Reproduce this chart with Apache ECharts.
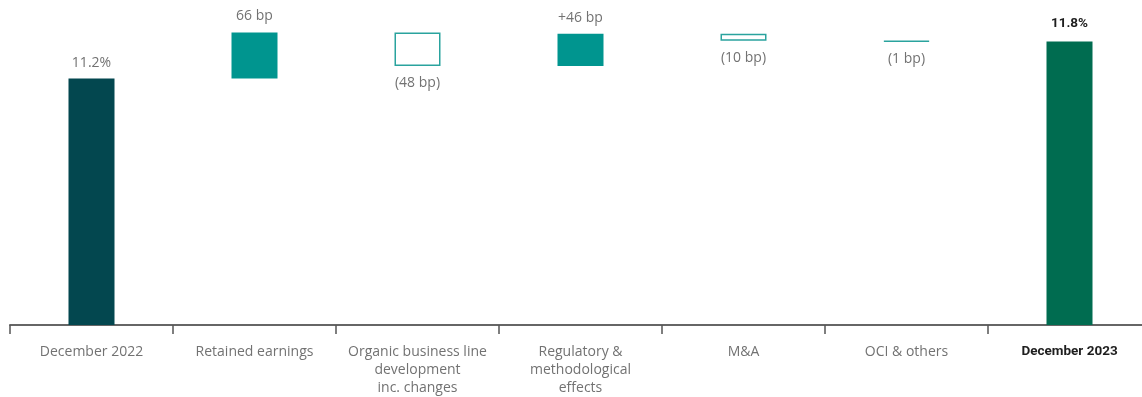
<!DOCTYPE html>
<html>
<head>
<meta charset="utf-8">
<script src="https://cdn.jsdelivr.net/npm/echarts@6/dist/echarts.min.js"></script>
<style>
html,body{margin:0;padding:0;background:#fff;overflow:hidden;}
#chart{width:1151px;height:397px;}
</style>
</head>
<body>
<div id="chart"></div>
<script>
// ---- data (CET1 ratio walk, %) ----
var categories = ['December 2022', 'Retained earnings', 'Organic business line\ndevelopment\ninc. changes', 'Regulatory &\nmethodological\neffects', 'M&A', 'OCI & others', 'December 2023'];
var startValue = 11.2;                       // December 2022
var deltas = [0.66, -0.48, 0.46, -0.10, -0.01]; // movements, percentage points
var endValue = 11.73;                         // December 2023 bar as drawn (labelled 11.8%)
var valueLabels = ['11.2%', '66 bp', '(48 bp)', '+46 bp', '(10 bp)', '(1 bp)', '11.8%'];

// ---- build waterfall series ----
var n = categories.length;
var base = [], solid = [], hollow = [];
var level = startValue;
base.push('-'); solid.push(startValue); hollow.push('-');
for (var i = 0; i < deltas.length; i++) {
  var d = deltas[i];
  var next = level + d;
  base.push(Math.min(level, next));
  if (d >= 0) { solid.push(d); hollow.push('-'); }
  else { solid.push('-'); hollow.push(-d); }
  level = next;
}
base.push('-'); solid.push(endValue); hollow.push('-');

var solidColors = ['#03474f', '#00958f', '#00958f', '#00958f', '#00958f', '#00958f', '#006c50'];
var grayText = '#727272';
var boldFont = 'Roboto, sans-serif';

var solidData = solid.map(function (v, i) {
  if (v === '-') return '-';
  var last = i === n - 1;
  return {
    value: v,
    itemStyle: { color: solidColors[i] },
    label: {
      show: true, position: 'top', distance: last ? 11 : 9,
      formatter: valueLabels[i],
      color: last ? '#1e1e1e' : grayText,
      fontWeight: last ? 'bold' : 'normal',
      fontFamily: last ? boldFont : '"Open Sans", sans-serif',
      fontSize: last ? 13.5 : 14
    }
  };
});
var hollowData = hollow.map(function (v, i) {
  if (v === '-') return '-';
  return {
    value: v,
    label: {
      show: true, position: 'bottom', distance: 10,
      formatter: valueLabels[i],
      color: grayText, fontFamily: '"Open Sans", sans-serif', fontSize: 14
    }
  };
});

var chart = echarts.init(document.getElementById('chart'), null, { renderer: 'canvas' });
chart.setOption({
  animation: false,
  grid: { left: 10, right: 0, top: 10, bottom: 72 },
  xAxis: {
    type: 'category',
    data: categories,
    axisLine: { lineStyle: { color: '#666', width: 2 } },
    axisTick: { show: true, length: 9, lineStyle: { color: '#555', width: 1.5 } },
    axisLabel: {
      interval: 0, margin: 18, color: grayText,
      fontFamily: '"Open Sans", sans-serif', fontSize: 14, lineHeight: 18,
      formatter: function (v, i) {
        return i === n - 1 ? '{b|' + v + '}' : v;
      },
      rich: {
        b: { fontFamily: boldFont, fontWeight: 'bold', fontSize: 13.5, color: '#1e1e1e', lineHeight: 18 }
      }
    }
  },
  yAxis: {
    type: 'value', min: 7.68, max: 12.18,
    show: false, splitLine: { show: false }
  },
  series: [
    { type: 'bar', stack: 'w', data: base, barWidth: 46, itemStyle: { color: 'transparent' }, silent: true },
    { type: 'bar', stack: 'w', data: solidData, barWidth: 46 },
    { type: 'bar', stack: 'w', data: hollowData, barWidth: 46,
      itemStyle: { color: '#ffffff', borderColor: '#2aa39e', borderWidth: 1.5 } }
  ]
});
</script>
</body>
</html>
